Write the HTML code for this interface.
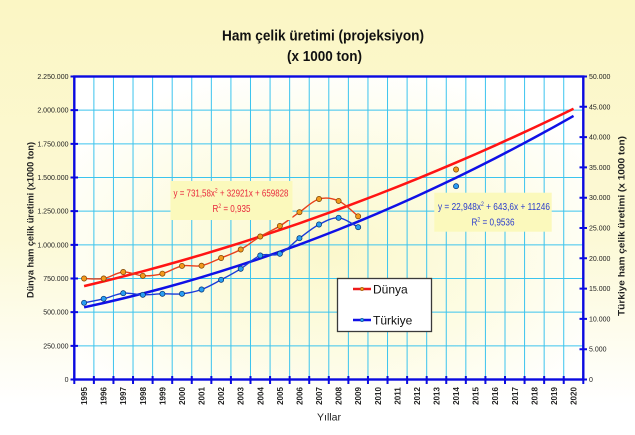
<!DOCTYPE html>
<html><head><meta charset="utf-8"><style>
html,body{margin:0;padding:0;width:635px;height:435px;overflow:hidden;background:#fff}
svg{display:block}
text{font-family:"Liberation Sans",Arial,sans-serif}
</style></head><body>
<svg width="635" height="435" viewBox="0 0 635 435" xmlns="http://www.w3.org/2000/svg">
<defs>
<linearGradient id="bg" x1="0" y1="0" x2="0" y2="1">
<stop offset="0" stop-color="#fbf6c4"/><stop offset="0.55" stop-color="#fcf9d6"/><stop offset="0.93" stop-color="#ffffff"/>
</linearGradient>
<radialGradient id="pg" cx="50%" cy="58%" r="62%">
<stop offset="0" stop-color="#fbf8cc"/><stop offset="0.55" stop-color="#fdfce4"/><stop offset="1" stop-color="#ffffff"/>
</radialGradient>
</defs>
<rect x="0" y="0" width="635" height="435" fill="url(#bg)"/>
<rect x="74.3" y="76.5" width="509" height="303" fill="url(#pg)"/>

<!-- title -->
<text x="323" y="40.5" text-anchor="middle" font-size="14.5" font-weight="bold" fill="#111" textLength="202" lengthAdjust="spacingAndGlyphs">Ham çelik üretimi (projeksiyon)</text>
<text x="324.5" y="61" text-anchor="middle" font-size="14.5" font-weight="bold" fill="#111" textLength="75" lengthAdjust="spacingAndGlyphs">(x 1000 ton)</text>

<!-- grid -->
<g stroke="#3cc4ee" stroke-width="1" fill="none">
<path d="M74.3 110.17H583.3M74.3 143.83H583.3M74.3 177.5H583.3M74.3 211.17H583.3M74.3 244.83H583.3M74.3 278.5H583.3M74.3 312.17H583.3M74.3 345.83H583.3"/>
<path d="M93.88 76.5V379.5M113.45 76.5V379.5M133.03 76.5V379.5M152.61 76.5V379.5M172.19 76.5V379.5M191.76 76.5V379.5M211.34 76.5V379.5M230.92 76.5V379.5M250.49 76.5V379.5M270.07 76.5V379.5M289.65 76.5V379.5M309.22 76.5V379.5M328.8 76.5V379.5M348.38 76.5V379.5M367.96 76.5V379.5M387.53 76.5V379.5M407.11 76.5V379.5M426.69 76.5V379.5M446.26 76.5V379.5M465.84 76.5V379.5M485.42 76.5V379.5M505 76.5V379.5M524.57 76.5V379.5M544.15 76.5V379.5M563.73 76.5V379.5"/>
</g>

<!-- trend lines -->
<polyline fill="none" stroke="#ff1414" stroke-width="2.5" stroke-linejoin="round" points="84.09,286.11 103.66,281.38 123.24,276.45 142.82,271.33 162.40,266.01 181.97,260.50 201.55,254.78 221.13,248.87 240.71,242.76 260.28,236.46 279.86,229.96 299.44,223.26 319.02,216.36 338.60,209.27 358.17,201.98 377.75,194.49 397.33,186.80 416.91,178.92 436.49,170.84 456.06,162.57 475.64,154.09 495.22,145.42 514.80,136.56 534.37,127.50 553.95,118.23 573.53,108.78"/>
<polyline fill="none" stroke="#1010e6" stroke-width="2.5" stroke-linejoin="round" points="84.09,307.31 103.66,302.99 123.24,298.40 142.82,293.52 162.40,288.37 181.97,282.94 201.55,277.23 221.13,271.24 240.71,264.98 260.28,258.44 279.86,251.62 299.44,244.52 319.02,237.14 338.60,229.49 358.17,221.56 377.75,213.35 397.33,204.86 416.91,196.09 436.49,187.04 456.06,177.72 475.64,168.11 495.22,158.24 514.80,148.07 534.37,137.64 553.95,126.93 573.53,115.94"/>

<!-- series (smoothed) -->
<path fill="none" stroke="#e8401c" stroke-width="1.4" d="M84.09,278.5 C87.35,278.5 97.13,279.58 103.66,278.5 C110.19,277.42 116.71,272.45 123.24,272.0 C129.77,271.55 136.29,275.53 142.82,275.8 C149.35,276.08 155.87,275.29 162.40,273.65 C168.93,272.01 175.44,267.30 181.97,265.97 C188.50,264.65 195.02,267.03 201.55,265.7 C208.08,264.37 214.60,260.7 221.13,258.0 C227.66,255.3 234.18,253.08 240.71,249.5 C247.24,245.92 253.75,240.42 260.28,236.5 C266.81,232.58 273.33,230.05 279.86,226.0 C286.39,221.95 292.91,216.7 299.44,212.2 C305.97,207.7 312.49,200.88 319.02,199.0 C325.55,197.12 332.07,198.02 338.60,200.9 C345.13,203.78 354.91,213.73 358.17,216.3"/>
<path fill="none" stroke="#1a3ad8" stroke-width="1.4" d="M84.09,302.8 C87.35,302.13 97.13,300.4 103.66,298.8 C110.19,297.2 116.71,293.87 123.24,293.2 C129.77,292.53 136.29,294.7 142.82,294.8 C149.35,294.9 155.87,293.97 162.40,293.8 C168.93,293.63 175.44,294.52 181.97,293.8 C188.50,293.08 195.02,291.83 201.55,289.5 C208.08,287.17 214.60,283.25 221.13,279.8 C227.66,276.35 234.18,272.85 240.71,268.8 C247.24,264.75 253.75,258.0 260.28,255.5 C266.81,253.0 273.33,256.68 279.86,253.8 C286.39,250.92 292.91,243.08 299.44,238.2 C305.97,233.32 312.49,227.9 319.02,224.5 C325.55,221.1 332.07,217.35 338.60,217.8 C345.13,218.25 354.91,225.63 358.17,227.2"/>
<g fill="#f39a1c" stroke="#7a4000" stroke-width="0.7">
<circle cx="84.09" cy="278.5" r="2.6"/><circle cx="103.66" cy="278.5" r="2.6"/><circle cx="123.24" cy="272.0" r="2.6"/><circle cx="142.82" cy="275.8" r="2.6"/><circle cx="162.40" cy="273.65" r="2.6"/><circle cx="181.97" cy="265.97" r="2.6"/><circle cx="201.55" cy="265.7" r="2.6"/><circle cx="221.13" cy="258.0" r="2.6"/><circle cx="240.71" cy="249.5" r="2.6"/><circle cx="260.28" cy="236.5" r="2.6"/><circle cx="279.86" cy="226.0" r="2.6"/><circle cx="299.44" cy="212.2" r="2.6"/><circle cx="319.02" cy="199.0" r="2.6"/><circle cx="338.60" cy="200.9" r="2.6"/><circle cx="358.17" cy="216.3" r="2.6"/><circle cx="456.06" cy="169.5" r="2.6"/>
</g>
<g fill="#2a9ef2" stroke="#00306e" stroke-width="0.7">
<circle cx="84.09" cy="302.8" r="2.6"/><circle cx="103.66" cy="298.8" r="2.6"/><circle cx="123.24" cy="293.2" r="2.6"/><circle cx="142.82" cy="294.8" r="2.6"/><circle cx="162.40" cy="293.8" r="2.6"/><circle cx="181.97" cy="293.8" r="2.6"/><circle cx="201.55" cy="289.5" r="2.6"/><circle cx="221.13" cy="279.8" r="2.6"/><circle cx="240.71" cy="268.8" r="2.6"/><circle cx="260.28" cy="255.5" r="2.6"/><circle cx="279.86" cy="253.8" r="2.6"/><circle cx="299.44" cy="238.2" r="2.6"/><circle cx="319.02" cy="224.5" r="2.6"/><circle cx="338.60" cy="217.8" r="2.6"/><circle cx="358.17" cy="227.2" r="2.6"/><circle cx="456.06" cy="186.2" r="2.6"/>
</g>

<!-- equation boxes -->
<rect x="170.5" y="181" width="122" height="39" fill="#fbf9bc"/>
<text x="231" y="196.5" text-anchor="middle" font-size="10.5" fill="#e8283c" textLength="115" lengthAdjust="spacingAndGlyphs">y = 731,58x<tspan dy="-4" font-size="6.5">2</tspan><tspan dy="4"> + 32921x + 659828</tspan></text>
<text x="231.5" y="212" text-anchor="middle" font-size="10.5" fill="#e8283c" textLength="38" lengthAdjust="spacingAndGlyphs">R<tspan dy="-4" font-size="6.5">2</tspan><tspan dy="4"> = 0,935</tspan></text>

<rect x="434.3" y="192.7" width="117.4" height="39" fill="#fbf9bc"/>
<text x="494" y="210" text-anchor="middle" font-size="10.5" fill="#2a3ccc" textLength="112" lengthAdjust="spacingAndGlyphs">y = 22,948x<tspan dy="-4" font-size="6.5">2</tspan><tspan dy="4"> + 643,6x + 11246</tspan></text>
<text x="493" y="225.5" text-anchor="middle" font-size="10.5" fill="#2a3ccc" textLength="43" lengthAdjust="spacingAndGlyphs">R<tspan dy="-4" font-size="6.5">2</tspan><tspan dy="4"> = 0,9536</tspan></text>

<!-- legend -->
<rect x="337.5" y="278.5" width="94" height="53" fill="#ffffff" stroke="#3a3a3a" stroke-width="1.3"/>
<line x1="353" y1="289" x2="371" y2="289" stroke="#ee1a1a" stroke-width="2.4"/>
<circle cx="362" cy="289" r="1.8" fill="#f39a1c" stroke="#7a4000" stroke-width="0.5"/>
<text x="373" y="293.5" font-size="12" fill="#111">Dünya</text>
<line x1="353" y1="320" x2="371" y2="320" stroke="#1010e6" stroke-width="2.4"/>
<circle cx="362" cy="320" r="1.8" fill="#2a9ef2" stroke="#00306e" stroke-width="0.5"/>
<text x="373" y="324.5" font-size="12" fill="#111">Türkiye</text>

<!-- axes frame -->
<rect x="74.3" y="76.5" width="509" height="303" fill="none" stroke="#0a0ae0" stroke-width="2.4"/>
<g stroke="#0a0ae0" stroke-width="2">
<path d="M70.5 76.5H78M70.5 110.17H78M70.5 143.83H78M70.5 177.5H78M70.5 211.17H78M70.5 244.83H78M70.5 278.5H78M70.5 312.17H78M70.5 345.83H78M70.5 379.5H78"/>
<path d="M579.5 76.5H587M579.5 106.8H587M579.5 137.1H587M579.5 167.4H587M579.5 197.7H587M579.5 228H587M579.5 258.3H587M579.5 288.6H587M579.5 318.9H587M579.5 349.2H587M579.5 379.5H587"/>
<path d="M74.3 376V384M93.88 376V384M113.45 376V384M133.03 376V384M152.61 376V384M172.19 376V384M191.76 376V384M211.34 376V384M230.92 376V384M250.49 376V384M270.07 376V384M289.65 376V384M309.22 376V384M328.8 376V384M348.38 376V384M367.96 376V384M387.53 376V384M407.11 376V384M426.69 376V384M446.26 376V384M465.84 376V384M485.42 376V384M505 376V384M524.57 376V384M544.15 376V384M563.73 376V384M583.3 376V384"/>
</g>

<!-- left labels -->
<g font-size="7" fill="#222" text-anchor="end">
<text x="68.5" y="79">2.250.000</text><text x="68.5" y="112.7">2.000.000</text><text x="68.5" y="146.3">1.750.000</text><text x="68.5" y="180">1.500.000</text><text x="68.5" y="213.7">1.250.000</text><text x="68.5" y="247.3">1.000.000</text><text x="68.5" y="281">750.000</text><text x="68.5" y="314.7">500.000</text><text x="68.5" y="348.3">250.000</text><text x="68.5" y="382">0</text>
</g>
<!-- right labels -->
<g font-size="7" fill="#222">
<text x="589" y="79">50.000</text><text x="589" y="109.3">45.000</text><text x="589" y="139.6">40.000</text><text x="589" y="169.9">35.000</text><text x="589" y="200.2">30.000</text><text x="589" y="230.5">25.000</text><text x="589" y="260.8">20.000</text><text x="589" y="291.1">15.000</text><text x="589" y="321.4">10.000</text><text x="589" y="351.7">5.000</text><text x="589" y="382">0</text>
</g>

<!-- axis titles -->
<text transform="translate(33.3,220) rotate(-90)" text-anchor="middle" font-size="9.5" font-weight="bold" fill="#222" textLength="156" lengthAdjust="spacingAndGlyphs">Dünya ham çelik üretimi (x1000 ton)</text>
<text transform="translate(624.5,226) rotate(-90)" text-anchor="middle" font-size="9.5" font-weight="bold" fill="#222" textLength="180" lengthAdjust="spacingAndGlyphs">Türkiye ham çelik üretimi (x 1000 ton)</text>

<!-- year labels -->
<g font-size="8" font-weight="bold" fill="#222" text-anchor="middle">
<text transform="translate(87.09,396) rotate(-90)">1995</text>
<text transform="translate(106.66,396) rotate(-90)">1996</text>
<text transform="translate(126.24,396) rotate(-90)">1997</text>
<text transform="translate(145.82,396) rotate(-90)">1998</text>
<text transform="translate(165.40,396) rotate(-90)">1999</text>
<text transform="translate(184.97,396) rotate(-90)">2000</text>
<text transform="translate(204.55,396) rotate(-90)">2001</text>
<text transform="translate(224.13,396) rotate(-90)">2002</text>
<text transform="translate(243.71,396) rotate(-90)">2003</text>
<text transform="translate(263.28,396) rotate(-90)">2004</text>
<text transform="translate(282.86,396) rotate(-90)">2005</text>
<text transform="translate(302.44,396) rotate(-90)">2006</text>
<text transform="translate(322.02,396) rotate(-90)">2007</text>
<text transform="translate(341.60,396) rotate(-90)">2008</text>
<text transform="translate(361.17,396) rotate(-90)">2009</text>
<text transform="translate(380.75,396) rotate(-90)">2010</text>
<text transform="translate(400.33,396) rotate(-90)">2011</text>
<text transform="translate(419.91,396) rotate(-90)">2012</text>
<text transform="translate(439.49,396) rotate(-90)">2013</text>
<text transform="translate(459.06,396) rotate(-90)">2014</text>
<text transform="translate(478.64,396) rotate(-90)">2015</text>
<text transform="translate(498.22,396) rotate(-90)">2016</text>
<text transform="translate(517.80,396) rotate(-90)">2017</text>
<text transform="translate(537.37,396) rotate(-90)">2018</text>
<text transform="translate(556.95,396) rotate(-90)">2019</text>
<text transform="translate(576.53,396) rotate(-90)">2020</text>
</g>
<text x="329" y="420.5" text-anchor="middle" font-size="10" fill="#222" textLength="24" lengthAdjust="spacingAndGlyphs">Yıllar</text>
</svg>
</body></html>
